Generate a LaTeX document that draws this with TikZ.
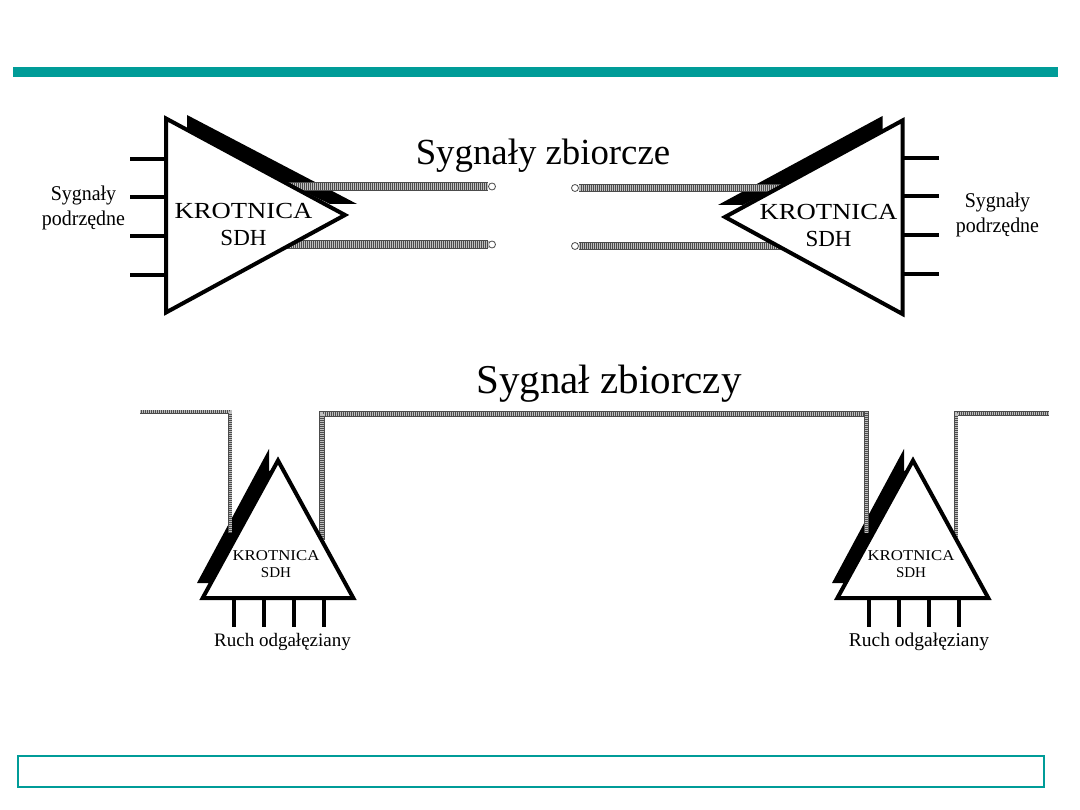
\documentclass[tikz,border=0pt]{standalone}
\usepackage{fontspec}
\setmainfont{Liberation Serif}
\definecolor{teal1}{HTML}{009C98}
\newcommand{\stretched}[2]{\scalebox{#1}[1]{#2}}
\tikzset{
  outline/.style={draw=black,line width=4pt,fill=white,miter limit=10},
  shadowwedge/.style={fill=black},
  stub/.style={draw=black,line width=3.8pt},
  % halftoned aggregate line: dark edges around a fine screen
  halftone/.style={draw=black!70,line width=#1,line join=miter,
    postaction={draw=black!25,line width=#1-1.6pt,dash pattern=on 1pt off 1pt}},
  endring/.style={circle,draw=black!70,fill=white,line width=.8pt,minimum size=7pt,inner sep=0pt},
  title/.style={font=\fontsize{#1}{#1}\selectfont,inner sep=0pt},
  mux/.style 2 args={font=\fontsize{#1}{#2}\selectfont,align=center,inner sep=0pt},
}
\begin{document}
\begin{tikzpicture}[x=1pt,y=-1pt]
\useasboundingbox (0,0) rectangle (1080,810);
\fill[white] (0,0) rectangle (1080,810);
% header rule and footer frame
\fill[teal1] (13,67) rectangle (1058,77);
\draw[teal1,line width=2pt] (18,756) rectangle (1044,787);

% point-to-point link: two multiplexers joined by aggregate signals
\coordinate (la) at (166,118.5); \coordinate (lb) at (166,312.5); \coordinate (lc) at (345,215);
\coordinate (ra) at (902.5,120.5); \coordinate (rb) at (902.5,314); \coordinate (rc) at (725,217);
\fill[shadowwedge] (187,115) -- (357,204) -- (330,204) -- (187,135) -- cycle;
\fill[shadowwedge] (882.5,116) -- (718,205) -- (743,205) -- (882.5,135) -- cycle;

\node[endring] (e1) at (492,186.5) {};
\node[endring] (e2) at (492,244.5) {};
\node[endring] (e3) at (575,188) {};
\node[endring] (e4) at (575,246) {};
\coordinate (l1) at (287,186.5); \coordinate (l2) at (284,244.5);
\coordinate (r1) at (783,188); \coordinate (r2) at (782,246);
\draw[halftone=8.5pt] (l1) -- (e1.west);
\draw[halftone=8.5pt] (l2) -- (e2.west);
\draw[halftone=8.5pt] (r1) -- (e3.east);
\draw[halftone=8.5pt] (r2) -- (e4.east);

\draw[outline] (la) -- (lb) -- (lc) -- cycle;
\draw[outline] (ra) -- (rb) -- (rc) -- cycle;
\foreach \y in {159,197,236,275} {
  \draw[stub] (130,\y) -- (166,\y);
  \draw[stub] (902.5,\y-1) -- (939,\y-1);
}
\node[title=36.8] (t1) at (543,156) {Sygnały zbiorcze};
\node[mux={23}{27}] (k1) at (243.5,224) {\stretched{1.16}{KROTNICA}\\SDH};
\node[mux={23}{27}] (k2) at (828.5,226) {\stretched{1.16}{KROTNICA}\\SDH};
\node[mux={21}{25}] (s1) at (83.5,208) {\stretched{.95}{Sygnały}\\\stretched{.95}{podrzędne}};
\node[mux={21}{25}] (s2) at (997.5,215) {\stretched{.95}{Sygnały}\\\stretched{.95}{podrzędne}};

% ring: two add-drop multiplexers on one aggregate signal
\coordinate (pa) at (278,460.5); \coordinate (pb) at (202.7,598); \coordinate (pc) at (353.3,598);
\coordinate (qa) at (913,460.5); \coordinate (qb) at (837.4,598); \coordinate (qc) at (988.3,598);
\fill[shadowwedge] (269,449) -- (269,471) -- (272,471) -- (214,583) -- (197,583) -- cycle;
\fill[shadowwedge] (904,449) -- (904,471) -- (907,471) -- (849,583) -- (832,583) -- cycle;

\coordinate (b1) at (140,411.7); \coordinate (b2) at (230.3,411.7); \coordinate (b3) at (230.3,533);
\coordinate (b4) at (321.8,540); \coordinate (b5) at (321.8,413.8); \coordinate (b6) at (869,413.8);
\coordinate (b6a) at (866.7,411.7); \coordinate (b7) at (866.7,533);
\coordinate (b8) at (956.2,540); \coordinate (b9) at (956.2,413.7); \coordinate (b10) at (1049,413.7);
\draw[halftone=4pt] (b1) -- (b2) -- (b3);
\draw[halftone=5.5pt] (b4) -- (b5) -- (b6);
\draw[halftone=4.5pt] (b6a) -- (b7);
\draw[halftone=4.5pt] (b8) -- (b9) -- (b10);

\draw[outline] (pa) -- (pb) -- (pc) -- cycle;
\draw[outline] (qa) -- (qb) -- (qc) -- cycle;
\foreach \x in {234,264,294,324} {
  \draw[stub] (\x,598) -- (\x,626.7);
  \draw[stub] (\x+635,598) -- (\x+635,626.7);
}
\node[title=41] (t2) at (609,384) {Sygnał zbiorczy};
\node[mux={15}{17}] (k3) at (276,564) {\stretched{1.12}{KROTNICA}\\SDH};
\node[mux={15}{17}] (k4) at (911,564) {\stretched{1.12}{KROTNICA}\\SDH};
\node[title=19] (o1) at (282.5,642) {Ruch odgałęziany};
\node[title=19.5] (o2) at (919,642) {Ruch odgałęziany};
\end{tikzpicture}
\end{document}
